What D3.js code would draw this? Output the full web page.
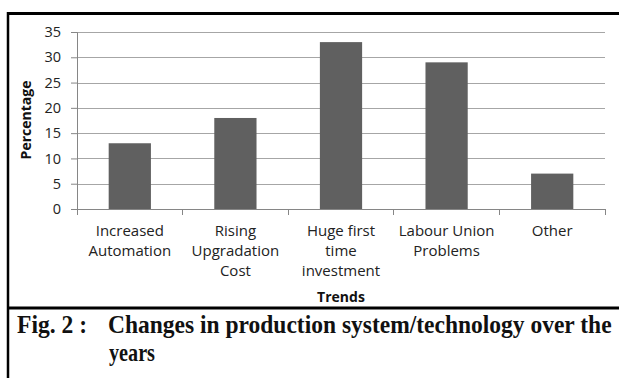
<!DOCTYPE html>
<html><head><meta charset="utf-8">
<script src="https://cdn.jsdelivr.net/npm/d3@7"></script>
<style>body{margin:0;background:#fff}svg{display:block}</style>
</head><body>
<script>
const categories = [["Increased","Automation"],["Rising","Upgradation","Cost"],["Huge first","time","investment"],["Labour Union","Problems"],["Other"]];
const values = [13, 18, 33, 29, 7];
const yTicks = [0,5,10,15,20,25,30,35];
const yTitle = "Percentage";
const xTitle = "Trends";
const caption1 = "Changes in production system/technology over the";
const caption2 = "years";
const figLabel = "Fig. 2 :";

(function(){
const W = 619, H = 378;
const svg = d3.select("body").append("svg").attr("width", W).attr("height", H);
const pL = 77, pR = 605, pT = 32, pB = 209;
const x = d3.scaleBand().domain(d3.range(values.length)).range([pL, pR]).paddingInner(0.6).paddingOuter(0.3);
const xb = d3.scaleBand().domain(d3.range(values.length)).range([pL, pR]);
const y = d3.scaleLinear().domain([0, 35]).range([pB, pT]);
const font = "'Open Sans', Lato, sans-serif";

// gridlines
svg.append("g").selectAll("line").data(yTicks.filter(d => d > 0)).join("line")
  .attr("x1", pL).attr("x2", pR).attr("y1", d => Math.round(y(d)) + 0.5).attr("y2", d => Math.round(y(d)) + 0.5)
  .attr("stroke", "#a6a6a6").attr("stroke-width", 1);

// bars
svg.append("g").selectAll("rect").data(values).join("rect")
  .attr("x", (d, i) => x(i)).attr("width", x.bandwidth())
  .attr("y", d => y(d)).attr("height", d => y(0) - y(d))
  .attr("fill", "#606060");

// y axis
const ya = svg.append("g").attr("transform", `translate(${pL},0)`)
  .call(d3.axisLeft(y).tickValues(yTicks).tickSize(6).tickPadding(10));
ya.select(".domain").attr("stroke", "#868686");
ya.selectAll(".tick line").attr("stroke", "#868686");
ya.selectAll("text").attr("font-family", font).attr("font-size", 14.5).attr("fill", "#222");

// x axis
const xa = svg.append("g").attr("transform", `translate(0,${pB})`);
xa.append("line").attr("x1", pL).attr("x2", pR).attr("stroke", "#868686").attr("shape-rendering", "crispEdges");
xa.selectAll(".tk").data(d3.range(values.length + 1)).join("line").attr("class", "tk")
  .attr("x1", i => pL + i * xb.step()).attr("x2", i => pL + i * xb.step())
  .attr("y1", 0).attr("y2", 6).attr("stroke", "#868686").attr("shape-rendering", "crispEdges");
const lab = svg.append("g").selectAll("text").data(categories).join("text")
  .attr("font-family", font).attr("font-size", 15).attr("fill", "#222").attr("text-anchor", "middle");
lab.each(function(lines, i) {
  d3.select(this).selectAll("tspan").data(lines).join("tspan")
    .attr("x", xb(i) + xb.bandwidth() / 2).attr("y", (l, j) => 236 + j * 20).text(l => l);
});

// axis titles
svg.append("text").attr("x", 341).attr("y", 302).attr("text-anchor", "middle")
  .attr("font-family", font).attr("font-size", 14).attr("font-weight", "bold").attr("fill", "#111").text(xTitle);
svg.append("text").attr("transform", "translate(31,120) rotate(-90)").attr("text-anchor", "middle")
  .attr("font-family", font).attr("font-size", 14).attr("font-weight", "bold").attr("fill", "#111").text(yTitle);

// frame lines
svg.append("line").attr("x1", 7).attr("x2", W).attr("y1", 13.5).attr("y2", 13.5).attr("stroke", "#000").attr("stroke-width", 3);
svg.append("line").attr("x1", 8).attr("x2", 8).attr("y1", 12).attr("y2", H).attr("stroke", "#000").attr("stroke-width", 2.5);
svg.append("line").attr("x1", 7).attr("x2", W).attr("y1", 308).attr("y2", 308).attr("stroke", "#000").attr("stroke-width", 3);

// caption (horizontally condensed serif)
const serif = "'Liberation Serif', 'Times New Roman', serif";
function cap(t, xx, yy, len) {
  const g = svg.append("g");
  const tx = g.append("text").attr("x", 0).attr("y", 0).attr("font-family", serif).attr("font-weight", "bold")
    .attr("font-size", 26).attr("fill", "#111").text(t);
  const w = tx.node().getComputedTextLength();
  g.attr("transform", `translate(${xx},${yy}) scale(${len / w},1)`);
}
cap(figLabel, 17, 333, 70);
cap(caption1, 108, 333, 504);
cap(caption2, 109, 361, 46);
})();
</script>
</body></html>
